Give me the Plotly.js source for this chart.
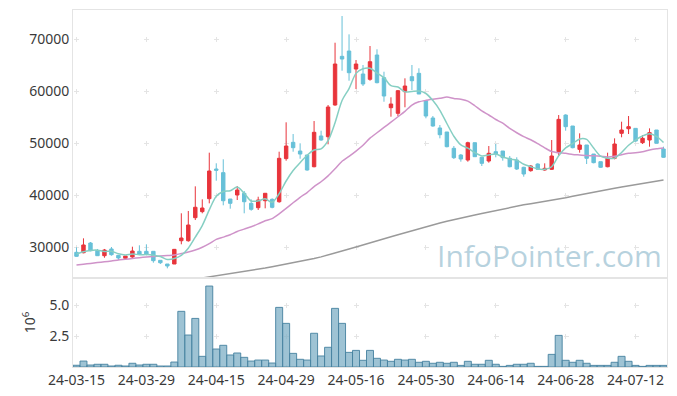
<!DOCTYPE html>
<html>
<head>
<meta charset="utf-8">
<script src="https://cdn.plot.ly/plotly-3.0.1.min.js"></script>
<style>html,body{margin:0;padding:0;background:#fff;}#chart{width:677px;height:396px;}</style>
</head>
<body>
<div id="chart"></div>
<script>
var dates = ["24-03-15","24-03-18","24-03-19","24-03-20","24-03-21","24-03-22","24-03-25","24-03-26","24-03-27","24-03-28",
"24-03-29","24-04-01","24-04-02","24-04-03","24-04-04","24-04-05","24-04-08","24-04-09","24-04-11","24-04-12",
"24-04-15","24-04-16","24-04-17","24-04-18","24-04-19","24-04-22","24-04-23","24-04-24","24-04-25","24-04-26",
"24-04-29","24-04-30","24-05-02","24-05-03","24-05-07","24-05-08","24-05-09","24-05-10","24-05-13","24-05-14",
"24-05-16","24-05-17","24-05-20","24-05-21","24-05-22","24-05-23","24-05-24","24-05-27","24-05-28","24-05-29",
"24-05-30","24-05-31","24-06-03","24-06-04","24-06-05","24-06-07","24-06-10","24-06-11","24-06-12","24-06-13",
"24-06-14","24-06-17","24-06-18","24-06-19","24-06-20","24-06-21","24-06-24","24-06-25","24-06-26","24-06-27",
"24-06-28","24-07-01","24-07-02","24-07-03","24-07-04","24-07-05","24-07-08","24-07-09","24-07-10","24-07-11",
"24-07-12","24-07-15","24-07-16","24-07-17","24-07-18"];

var openP = [28980,28900,30770,29360,28330,29620,28400,27830,28080,29170,
29170,29170,27440,26730,26730,31210,31210,35640,36800,39290,
45000,44300,39230,40000,40330,38400,37560,38900,39170,38710,
47000,50130,48460,47690,45440,51350,51210,57310,66670,67690,
64230,63270,62250,66920,62560,56790,55710,59870,62760,63400,
58140,54810,52890,52120,48980,47690,46730,50060,47250,46540,
48330,48460,47060,46730,45330,44680,45960,44810,44940,48330,
55380,53270,48780,49620,47880,46410,45440,47060,51860,52750,
52820,50060,50580,52500,48850];
var highP = [29940,31670,30960,29620,29620,30000,28460,28270,30060,30330,
30520,29170,27440,26730,29620,36480,36930,41670,39170,48140,
46100,46870,39230,41730,40770,39170,39670,40330,39360,48330,
53980,51730,49940,47690,54230,52370,57310,69290,74420,70900,
65960,65000,68650,68020,63710,58790,60190,62440,65000,64370,
58140,55190,53460,52120,49420,47880,50250,50060,47250,49420,
49810,48460,47500,47250,45440,45770,46090,46090,50580,55380,
55520,53270,51860,49620,47880,46410,48140,50900,54100,55190,
52820,51540,52820,52500,49290];
var lowP = [28150,28790,29170,28270,27940,28330,27500,27630,27760,28460,
28400,26980,26730,25900,26730,30520,31020,35190,36480,38400,
42750,38020,37370,39040,36480,36980,37120,37440,37440,38520,
46600,48330,46980,44680,45330,50440,49750,57170,63900,61980,
60380,60960,61980,61480,57940,55060,55190,56870,60190,59420,
54750,53140,50900,49170,46920,46410,46410,47370,45580,46220,
47250,46600,45330,44810,43520,44490,44810,44680,44810,47500,
52370,48980,48140,45960,46090,45250,45330,46860,51100,51730,
50250,49810,49290,49940,47180];
var closeP = [28210,30390,29290,28330,29420,28520,27890,28270,29230,28650,
28650,27370,26980,26350,29550,31730,34230,37640,37500,44620,
44750,38900,38400,40960,38710,37250,39040,40330,37630,47060,
49420,49100,47880,44810,52060,50580,56920,65190,66150,63520,
65190,61350,65640,61600,59040,57500,60060,60960,61980,59420,
55190,53270,51600,49290,47180,46920,50060,47370,46090,48020,
47880,47180,45440,45000,44040,45580,44940,45130,47500,54550,
53140,49100,49620,47060,46220,45330,47060,49810,52500,53140,
50380,50900,51990,49940,47250];

var ma5 = [28650,29100,29350,29400,29128,29190,28690,28486,28666,28512,
28538,28434,28176,27600,27780,28396,29768,31900,34130,37144,
39748,40682,40834,41526,40344,38844,38872,39258,38592,40262,
42696,44708,46218,47654,48654,48886,50450,53912,58180,60472,
63394,64280,64370,63460,62564,61026,60768,59832,59908,59984,
59522,58164,56292,53754,51306,49652,49010,48164,47524,47692,
47884,47308,46922,46704,45908,45448,45000,44938,45438,47540,
49052,49884,50782,50694,49028,47466,47058,47096,48184,49568,
50578,51346,51782,51270,50092];

var ma20 = [26540,26694,26848,27002,27156,27309,27502,27636,27790,27944,
28079,28175,28271,28367,28463,28752,29040,29425,29944,30641,
31468,31894,32349,32981,33445,33882,34439,35042,35462,36383,
37421,38508,39553,40476,41601,42544,43678,45056,46488,47433,
48455,49578,50940,51972,52988,54001,55052,56083,57301,57919,
58207,58416,58602,58826,58582,58399,58056,57165,56162,55387,
54521,53813,52803,51973,51223,50627,49871,49079,48355,48112,
48009,47801,47702,47590,47542,47463,47313,47435,47755,48011,
48136,48321,48651,48895,49055];

var maLong = [null,null,null,null,null,null,null,null,null,null,
null,null,null,null,null,null,null,null,24050,24250,
24450,24650,24850,25050,25250,25450,25700,25950,26200,26450,
26700,26950,27200,27480,27780,28100,28450,28820,29200,29600,
30000,30420,30820,31200,31580,31960,32350,32750,33150,33550,
33950,34300,34620,34950,35280,35580,35870,36150,36440,36730,
37020,37310,37600,37890,38110,38320,38530,38740,38950,39200,
39480,39760,40040,40300,40560,40820,41070,41310,41550,41770,
41990,42210,42440,42660,42890];

var volumeM = [0.14,0.48,0.16,0.22,0.22,0.08,0.14,0.08,0.30,0.16,
0.22,0.22,0.08,0.08,0.40,4.49,2.58,3.92,0.86,6.53,
1.45,1.75,0.97,1.13,0.78,0.48,0.56,0.56,0.32,4.81,
3.52,1.10,0.62,0.56,2.72,0.89,1.59,4.73,3.52,1.18,
1.34,0.54,1.34,0.70,0.56,0.46,0.62,0.56,0.62,0.38,
0.46,0.30,0.38,0.30,0.38,0.13,0.46,0.22,0.22,0.54,
0.22,0.05,0.13,0.22,0.22,0.30,0.05,0.05,1.02,2.55,
0.54,0.38,0.54,0.30,0.13,0.13,0.13,0.38,0.86,0.46,
0.13,0.05,0.13,0.13,0.13];

var priceTicks = [30000,40000,50000,60000,70000];
var volTicks = [2.5,5.0];
var volTickText = ["2.5","5.0"];
var xTickLabels = ["24-03-15","24-03-29","24-04-15","24-04-29","24-05-16","24-05-30","24-06-14","24-06-28","24-07-12"];

var upColor = "#e8343b";
var downColor = "#67c0d8";

var traces = [
  {
    type: "candlestick", x: dates, open: openP, high: highP, low: lowP, close: closeP,
    xaxis: "x", yaxis: "y",
    increasing: {line: {color: upColor, width: 1}, fillcolor: upColor},
    decreasing: {line: {color: downColor, width: 1}, fillcolor: downColor},
    whiskerwidth: 0, showlegend: false, hoverinfo: "none"
  },
  {type: "scatter", mode: "lines", x: dates, y: maLong, xaxis: "x", yaxis: "y",
   line: {color: "#9a9a9a", width: 1.5}, showlegend: false, hoverinfo: "none"},
  {type: "scatter", mode: "lines", x: dates, y: ma20, xaxis: "x", yaxis: "y",
   line: {color: "#cf93c9", width: 1.5, shape: "spline", smoothing: 0.6}, showlegend: false, hoverinfo: "none"},
  {type: "scatter", mode: "lines", x: dates, y: ma5, xaxis: "x", yaxis: "y",
   line: {color: "#86cfc3", width: 1.5, shape: "spline", smoothing: 0.8}, showlegend: false, hoverinfo: "none"},
  {type: "bar", x: dates, y: volumeM, xaxis: "x2", yaxis: "y2",
   marker: {color: "rgba(120,172,196,0.72)", line: {color: "rgba(70,130,160,0.9)", width: 1}},
   showlegend: false, hoverinfo: "none"}
];

var split = 89 / 357;
var fontFam = "'Noto Sans', 'Open Sans', sans-serif";
var tickFont = {size: 14, color: "#3a3a3a"};
var gridCol = "#e4e4e4";
var layout = {
  width: 677, height: 396,
  margin: {l: 73, r: 10, t: 10, b: 29},
  paper_bgcolor: "#ffffff", plot_bgcolor: "#ffffff",
  font: {family: fontFam, size: 14, color: "#3a3a3a"},
  bargap: 0,
  xaxis: {
    type: "category", anchor: "y", domain: [0, 1], range: [-0.5, 84.5],
    showticklabels: false, ticks: "",
    rangeslider: {visible: false},
    tickvals: xTickLabels,
    showgrid: true, gridcolor: gridCol, gridwidth: 1, griddash: "0px,26.5px,5px,20.5px",
    showline: true, mirror: true, linecolor: "#e4e4e4", linewidth: 1,
    zeroline: false, fixedrange: true
  },
  xaxis2: {
    type: "category", anchor: "y2", domain: [0, 1], matches: "x", range: [-0.5, 84.5],
    tickvals: xTickLabels, ticktext: xTickLabels, ticks: "",
    tickfont: tickFont,
    showgrid: true, gridcolor: gridCol, gridwidth: 1, griddash: "0px,24.5px,5px,1.5px",
    showline: true, mirror: true, linecolor: "#e4e4e4", linewidth: 1,
    zeroline: false, fixedrange: true
  },
  yaxis: {
    domain: [split, 1], range: [24040, 75580], anchor: "x",
    tickvals: priceTicks, ticktext: priceTicks.map(String), ticks: "",
    tickfont: tickFont,
    showgrid: true, gridcolor: gridCol, gridwidth: 1, griddash: "0px,1px,5px,64px",
    showline: true, mirror: true, linecolor: "#e4e4e4", linewidth: 1,
    zeroline: false, fixedrange: true
  },
  yaxis2: {
    domain: [0, split], range: [0, 7.18], anchor: "x2",
    tickvals: volTicks, ticktext: volTickText, ticks: "",
    tickfont: tickFont,
    title: {text: "10<sup>6</sup>", font: {size: 14, color: "#3a3a3a"}, standoff: 10},
    showgrid: true, gridcolor: gridCol, gridwidth: 1, griddash: "0px,1px,5px,64px",
    showline: true, mirror: true, linecolor: "#e4e4e4", linewidth: 1,
    zeroline: false, fixedrange: true
  },
  annotations: [{
    text: "InfoPointer.com", xref: "paper", yref: "paper", x: 0.803, y: 0.311,
    xanchor: "center", yanchor: "middle", showarrow: false,
    font: {family: "'Open Sans', 'Noto Sans', sans-serif", size: 30, color: "rgba(160,195,212,0.75)"}
  }]
};

Plotly.newPlot("chart", traces, layout, {staticPlot: true, displayModeBar: false});
</script>
</body>
</html>
